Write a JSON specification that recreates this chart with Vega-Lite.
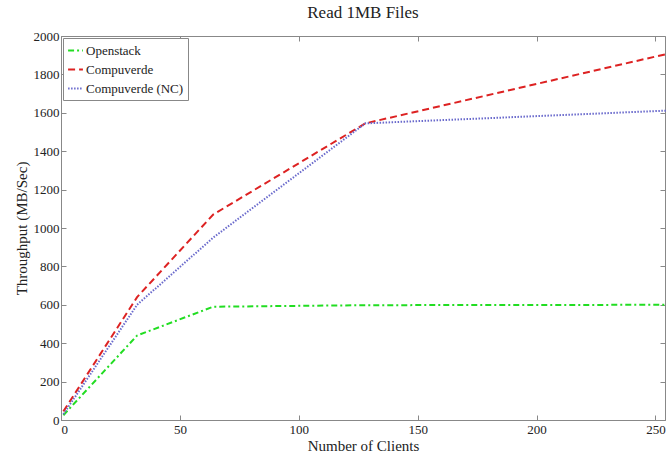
{
  "$schema": "https://vega.github.io/schema/vega-lite/v6.json",
  "autosize": "none",
  "width": 604,
  "height": 384,
  "padding": {"left": 61, "top": 36, "right": 1, "bottom": 38},
  "background": "white",
  "config": {
    "font": "Liberation Serif",
    "view": {"stroke": "#888888", "strokeWidth": 1},
    "axis": {"labelFont": "Liberation Serif", "titleFont": "Liberation Serif", "labelColor": "#222", "titleColor": "#222", "grid": false, "domainColor": "#888", "tickColor": "#888", "labelFontSize": 13, "titleFontSize": 15, "titleFontWeight": "normal", "labelOverlap": false, "format": "d"}
  },
  "title": {"text": "Read 1MB Files", "font": "Liberation Serif", "fontSize": 17, "fontWeight": "normal", "color": "#222", "offset": 8},
  "data": {"values": [
    {"clients": 1, "throughput": 25, "system": "Openstack"},
    {"clients": 32, "throughput": 440, "system": "Openstack"},
    {"clients": 64, "throughput": 590, "system": "Openstack"},
    {"clients": 128, "throughput": 598, "system": "Openstack"},
    {"clients": 256, "throughput": 600, "system": "Openstack"},
    {"clients": 1, "throughput": 45, "system": "Compuverde"},
    {"clients": 32, "throughput": 640, "system": "Compuverde"},
    {"clients": 64, "throughput": 1070, "system": "Compuverde"},
    {"clients": 128, "throughput": 1545, "system": "Compuverde"},
    {"clients": 256, "throughput": 1910, "system": "Compuverde"},
    {"clients": 1, "throughput": 30, "system": "Compuverde (NC)"},
    {"clients": 32, "throughput": 600, "system": "Compuverde (NC)"},
    {"clients": 64, "throughput": 950, "system": "Compuverde (NC)"},
    {"clients": 128, "throughput": 1545, "system": "Compuverde (NC)"},
    {"clients": 256, "throughput": 1612, "system": "Compuverde (NC)"}
  ]},
  "layer": [
    {
      "mark": {"type": "line", "strokeWidth": 2},
      "encoding": {
        "x": {"field": "clients", "type": "quantitative", "scale": {"domain": [0, 254], "nice": false}, "axis": {"title": "Number of Clients", "values": [0, 50, 100, 150, 200, 250], "tickSize": -5, "labelPadding": 8, "titlePadding": 2}},
        "y": {"field": "throughput", "type": "quantitative", "scale": {"domain": [0, 2000], "nice": false}, "axis": {"title": "Throughput (MB/Sec)", "values": [0,200,400,600,800,1000,1200,1400,1600,1800,2000], "tickSize": -5, "labelPadding": 7, "titlePadding": 4}},
        "color": {"field": "system", "type": "nominal", "sort": ["Openstack", "Compuverde", "Compuverde (NC)"], "scale": {"domain": ["Openstack", "Compuverde", "Compuverde (NC)"], "range": ["#22dd22", "#dd2222", "#6a6acc"]}, "legend": {"title": null, "orient": "top-left", "offset": 2, "strokeColor": "#888", "fillColor": "white", "padding": 4, "labelFont": "Liberation Serif", "labelFontSize": 13, "labelColor": "#222", "symbolType": "stroke", "symbolSize": 220, "symbolStrokeWidth": 2, "rowPadding": 3, "labelOffset": 2}},
        "strokeDash": {"field": "system", "type": "nominal", "sort": ["Openstack", "Compuverde", "Compuverde (NC)"], "scale": {"domain": ["Openstack", "Compuverde", "Compuverde (NC)"], "range": [[6, 3, 2, 3], [7, 4], [1.5, 1.5]]}}
      }
    },
    {
      "mark": {"type": "point", "opacity": 0},
      "encoding": {
        "x": {"field": "clients", "type": "quantitative", "scale": {"domain": [0, 254], "nice": false}, "axis": {"orient": "top", "title": null, "labels": false, "values": [0, 50, 100, 150, 200, 250], "tickSize": -5, "domain": false}},
        "y": {"field": "throughput", "type": "quantitative", "scale": {"domain": [0, 2000], "nice": false}, "axis": {"orient": "right", "title": null, "labels": false, "values": [0,200,400,600,800,1000,1200,1400,1600,1800,2000], "tickSize": -5, "domain": false}}
      }
    }
  ],
  "resolve": {"axis": {"x": "independent", "y": "independent"}}
}
